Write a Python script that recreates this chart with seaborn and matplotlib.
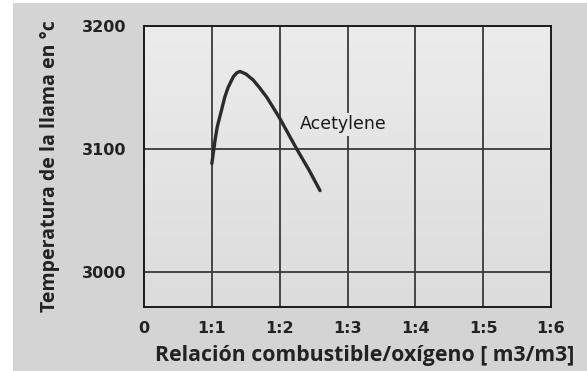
import numpy as np
import pandas as pd
import matplotlib
matplotlib.use("Agg")
import matplotlib.pyplot as plt
import seaborn as sns
from matplotlib.patches import Rectangle

# Data
ratio = [1.0, 1.03, 1.05, 1.08, 1.145, 1.19, 1.24, 1.32, 1.37, 1.415, 1.5, 1.61, 1.7, 1.81, 1.9, 2.0, 2.25, 2.43, 2.595]
temperature = [3088, 3100, 3108, 3118, 3132, 3142, 3150, 3159, 3162, 3163, 3161, 3156, 3150, 3142, 3134, 3125, 3100, 3083, 3066]
x_tick_values = [0, 1, 2, 3, 4, 5, 6]
x_tick_labels = ["0", "1:1", "1:2", "1:3", "1:4", "1:5", "1:6"]
y_tick_values = [3000, 3100, 3200]
series_label = "Acetylene"

df = pd.DataFrame({"ratio": ratio, "temp": temperature})

sns.set_theme(style="white")
plt.rcParams['font.family'] = ['Open Sans', 'DejaVu Sans']

fig = plt.figure(figsize=(5.87, 3.71), dpi=100, facecolor="white")
fig.patches.append(Rectangle((13/587, 0), 1 - 13/587, 1 - 3/371, transform=fig.transFigure,
                             facecolor="#d4d4d4", edgecolor="none", zorder=-10))

ax = fig.add_axes([144/587, 1 - 307.3/371, (551 - 144)/587, (307.3 - 26)/371])

grad = np.linspace(0, 1, 256).reshape(-1, 1)
ax.imshow(grad, extent=[0, 1, 0, 1], transform=ax.transAxes, aspect="auto",
          cmap=matplotlib.colors.LinearSegmentedColormap.from_list("g", ["#ececec", "#dcdcdc"]),
          zorder=0)

sns.lineplot(data=df, x="ratio", y="temp", ax=ax, color="#2b2b2b", linewidth=2.4,
             sort=False, zorder=5, solid_joinstyle="round", solid_capstyle="round")

ax.set_xlim(0, 6)
ax.set_ylim(2971, 3200)
ax.set_xticks(x_tick_values)
ax.set_xticklabels(x_tick_labels)
ax.set_yticks(y_tick_values)

for v in x_tick_values[1:-1]:
    ax.axvline(v, color="#3a3a3a", linewidth=1.3, zorder=2)
for v in y_tick_values[:-1]:
    ax.axhline(v, color="#3a3a3a", linewidth=1.3, zorder=2)

for s in ax.spines.values():
    s.set_visible(True)
    s.set_color("#1a1a1a")
    s.set_linewidth(1.4)

ax.tick_params(axis="both", length=0, labelcolor="#222222")
ax.tick_params(axis="x", pad=10)
ax.tick_params(axis="y", pad=13)
for lbl in ax.get_xticklabels() + ax.get_yticklabels():
    lbl.set_family(["DejaVu Sans"])
    lbl.set_fontweight("bold")
    lbl.set_fontsize(11.5)

ax.text(2.3, 3120, series_label, ha="left", va="center", fontsize=12.5,
        family=["DejaVu Sans"], color="#1a1a1a", zorder=6,
        bbox=dict(boxstyle="square,pad=0.15", facecolor="#e6e6e6", edgecolor="none"))

ax.set_xlabel("Relación combustible/oxígeno [ m3/m3]", fontsize=15.3, fontweight="bold",
              color="#222222", va="center")
ax.set_ylabel("Temperatura de la llama en °c", fontsize=14, fontweight="bold",
              color="#222222")
ax.xaxis.set_label_coords((365 - 144) / (551 - 144), -(355 - 307.3) / (307.3 - 26))
ax.yaxis.set_label_coords(-(144 - 60) / (551 - 144), (307.3 - 166) / (307.3 - 26))

fig.savefig("out.png", dpi=100, facecolor=fig.get_facecolor())
